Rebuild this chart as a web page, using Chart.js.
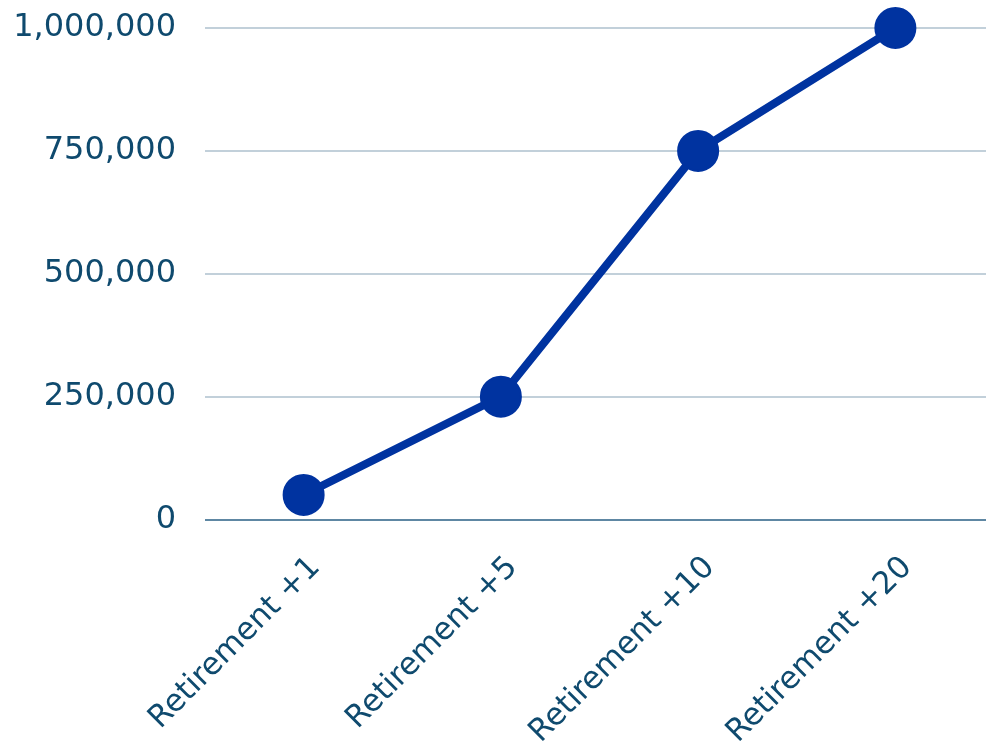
<!DOCTYPE html>
<html>
<head>
<meta charset="utf-8">
<script src="https://cdn.jsdelivr.net/npm/chart.js@4/dist/chart.umd.min.js"></script>
<style>
html,body{margin:0;padding:0;background:#fff;overflow:hidden;width:986px;height:751px;}
#wrap{width:994px;height:751px;}
</style>
</head>
<body>
<div id="wrap"><canvas id="c" width="994" height="751"></canvas></div>
<script>
const categories = ["Retirement +1", "Retirement +5", "Retirement +10", "Retirement +20"];
const values = [50000, 250000, 750000, 1000000];
const yTicks = [0, 250000, 500000, 750000, 1000000];

const textColor = '#0f4a6e';
const lineColor = '#0033a0';

new Chart(document.getElementById('c'), {
  type: 'line',
  data: {
    labels: categories,
    datasets: [{
      data: values,
      borderColor: lineColor,
      backgroundColor: lineColor,
      borderWidth: 8,
      pointRadius: 20,
      pointBorderWidth: 2,
      pointBackgroundColor: lineColor,
      pointBorderColor: lineColor,
      tension: 0,
      fill: false,
      clip: false
    }]
  },
  options: {
    responsive: false,
    animation: false,
    layout: { autoPadding: false, padding: { top: 28, left: 0, right: 0, bottom: 0 } },
    plugins: { legend: { display: false }, tooltip: { enabled: false } },
    scales: {
      x: {
        offset: true,
        grid: { display: false, drawTicks: false },
        border: { display: false },
        afterFit: (scale) => { scale.height = 231.5; },
        ticks: {
          color: textColor,
          font: { family: 'DejaVu Sans', size: 31 },
          maxRotation: 45, minRotation: 45,
          padding: 30,
          labelOffset: 12
        }
      },
      y: {
        min: 0, max: 1000000,
        afterBuildTicks: (scale) => { scale.ticks = yTicks.map(v => ({ value: v })); },
        afterFit: (scale) => { scale.width = 205; scale.paddingTop = 0; scale.paddingBottom = 0; },
        grid: {
          drawTicks: false,
          color: (ctx) => ctx.tick && ctx.tick.value === 0 ? '#5e87a3' : '#c2d0da',
          lineWidth: 2
        },
        border: { display: false },
        ticks: {
          color: textColor,
          font: { family: 'DejaVu Sans', size: 32 },
          padding: 29,
          callback: (v) => Number(v).toLocaleString('en-US')
        }
      }
    }
  }
});
</script>
</body>
</html>
